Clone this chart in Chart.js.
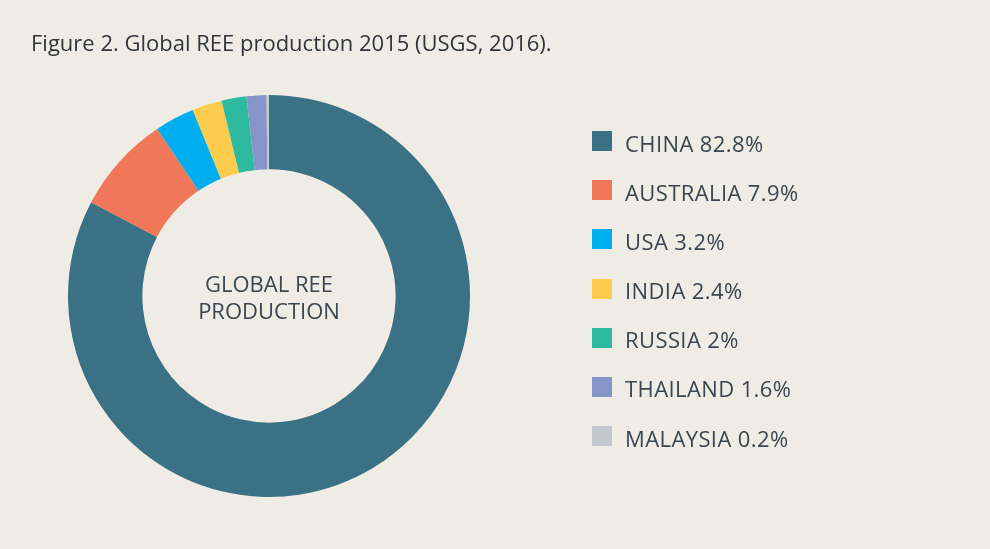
<!DOCTYPE html>
<html>
<head>
<meta charset="utf-8">
<script src="https://cdn.jsdelivr.net/npm/chart.js@4"></script>
<style>
  html, body { margin:0; padding:0; background:#efece5; }
  #wrap { position:relative; width:990px; height:549px; overflow:hidden; background:#efece5; font-family:"Open Sans", sans-serif; color:#3a4651; }
  canvas { position:absolute; left:0; top:0; }
  #title { position:absolute; left:31px; top:26.6px; font-size:22px; line-height:30px; color:#30363c; white-space:nowrap; }
  #center { position:absolute; left:119px; width:300px; top:270px; text-align:center; font-size:22px; line-height:27px; white-space:nowrap; }
  .lg { position:absolute; left:592px; height:20px; white-space:nowrap; }
  .lg .sw { position:absolute; left:0; top:0; width:20px; height:20px; }
  .lg .tx { position:absolute; left:33px; top:-3.5px; font-size:22px; line-height:30px; letter-spacing:0.4px; }
</style>
</head>
<body>
<div id="wrap">
  <canvas id="c" width="990" height="549"></canvas>
  <div id="title"></div>
  <div id="center"></div>
  <div id="legend"></div>
</div>
<script>
const titleText = "Figure 2. Global REE production 2015 (USGS, 2016).";
const centerLines = ["GLOBAL REE", "PRODUCTION"];
const countries = ["CHINA", "AUSTRALIA", "USA", "INDIA", "RUSSIA", "THAILAND", "MALAYSIA"];
const shares = [82.8, 7.9, 3.2, 2.4, 2, 1.6, 0.2];
const colors = ["#3a7184", "#f07759", "#00adee", "#fecc4c", "#2dba9f", "#8594c9", "#c2c8cc"];

document.getElementById('title').textContent = titleText;
document.getElementById('center').innerHTML = centerLines.map(s => '<div>' + s + '</div>').join('');

const legend = document.getElementById('legend');
countries.forEach((name, i) => {
  const row = document.createElement('div');
  row.className = 'lg';
  row.style.top = (131 + i * 49.17) + 'px';
  const sw = document.createElement('div');
  sw.className = 'sw';
  sw.style.background = colors[i];
  const tx = document.createElement('div');
  tx.className = 'tx';
  tx.textContent = name + ' ' + shares[i] + '%';
  row.appendChild(sw);
  row.appendChild(tx);
  legend.appendChild(row);
});

new Chart(document.getElementById('c'), {
  type: 'doughnut',
  data: {
    labels: countries,
    datasets: [{
      data: shares,
      backgroundColor: colors,
      borderWidth: 0
    }]
  },
  options: {
    responsive: false,
    animation: false,
    cutout: '63%',
    layout: { padding: { left: 68, top: 95, right: 520, bottom: 52 } },
    plugins: {
      legend: { display: false },
      tooltip: { enabled: false },
      title: { display: false }
    }
  }
});
</script>
</body>
</html>
